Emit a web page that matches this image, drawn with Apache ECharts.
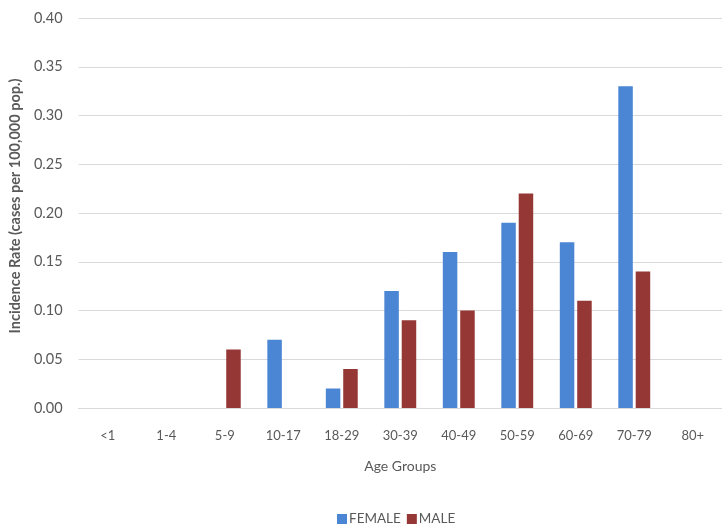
<!DOCTYPE html>
<html>
<head>
<meta charset="utf-8">
<script src="https://cdn.jsdelivr.net/npm/echarts@6/dist/echarts.min.js"></script>
<style>html,body{margin:0;padding:0;background:#fff;}#c{width:722px;height:527px;}</style>
</head>
<body>
<div id="c"></div>
<script>
const categories = ['<1','1-4','5-9','10-17','18-29','30-39','40-49','50-59','60-69','70-79','80+'];
const female = [0, 0, 0, 0.07, 0.02, 0.12, 0.16, 0.19, 0.17, 0.33, 0];
const male   = [0, 0, 0.06, 0, 0.04, 0.09, 0.10, 0.22, 0.11, 0.14, 0];
const yTicks = { min: 0, max: 0.40, interval: 0.05 };

const font = 'Lato, "Open Sans", sans-serif';
const chart = echarts.init(document.getElementById('c'), null, { renderer: 'canvas' });
chart.setOption({
  animation: false,
  backgroundColor: '#ffffff',
  textStyle: { fontFamily: font },
  grid: { left: 70, right: -7, top: 18, bottom: 119, containLabel: false },
  legend: {
    data: ['FEMALE', 'MALE'],
    top: 507,
    left: 332,
    icon: 'rect',
    itemWidth: 10,
    itemHeight: 10,
    itemGap: 6,
    textStyle: { color: '#595959', fontSize: 13.5, fontFamily: font, padding: [0, 0, 0, -3] }
  },
  xAxis: {
    type: 'category',
    data: categories,
    name: 'Age Groups',
    nameLocation: 'middle',
    nameGap: 51,
    nameTextStyle: { color: '#595959', fontSize: 14, fontFamily: font },
    axisLine: { show: true, lineStyle: { color: '#d9d9d9' } },
    axisTick: { show: false },
    axisLabel: { color: '#595959', fontSize: 13, margin: 21, fontFamily: font }
  },
  yAxis: {
    type: 'value',
    min: yTicks.min,
    max: yTicks.max,
    interval: yTicks.interval,
    name: 'Incidence Rate (cases per 100,000 pop.)',
    nameLocation: 'middle',
    nameGap: 55,
    nameTextStyle: { color: '#595959', fontSize: 14.5, fontWeight: 'bold', fontFamily: font, padding: [0, 0, 0, 14] },
    axisLine: { show: false },
    axisTick: { show: false },
    axisLabel: { color: '#595959', fontSize: 14.5, margin: 16, fontFamily: font, formatter: v => v.toFixed(2) },
    splitLine: { lineStyle: { color: '#d9d9d9', width: 1 } }
  },
  series: [
    { name: 'FEMALE', type: 'bar', data: female, barWidth: 14.5, barGap: '20%',
      itemStyle: { color: '#4a86d4' } },
    { name: 'MALE', type: 'bar', data: male, barWidth: 14.5, barGap: '20%',
      itemStyle: { color: '#953735' } }
  ]
});
</script>
</body>
</html>
